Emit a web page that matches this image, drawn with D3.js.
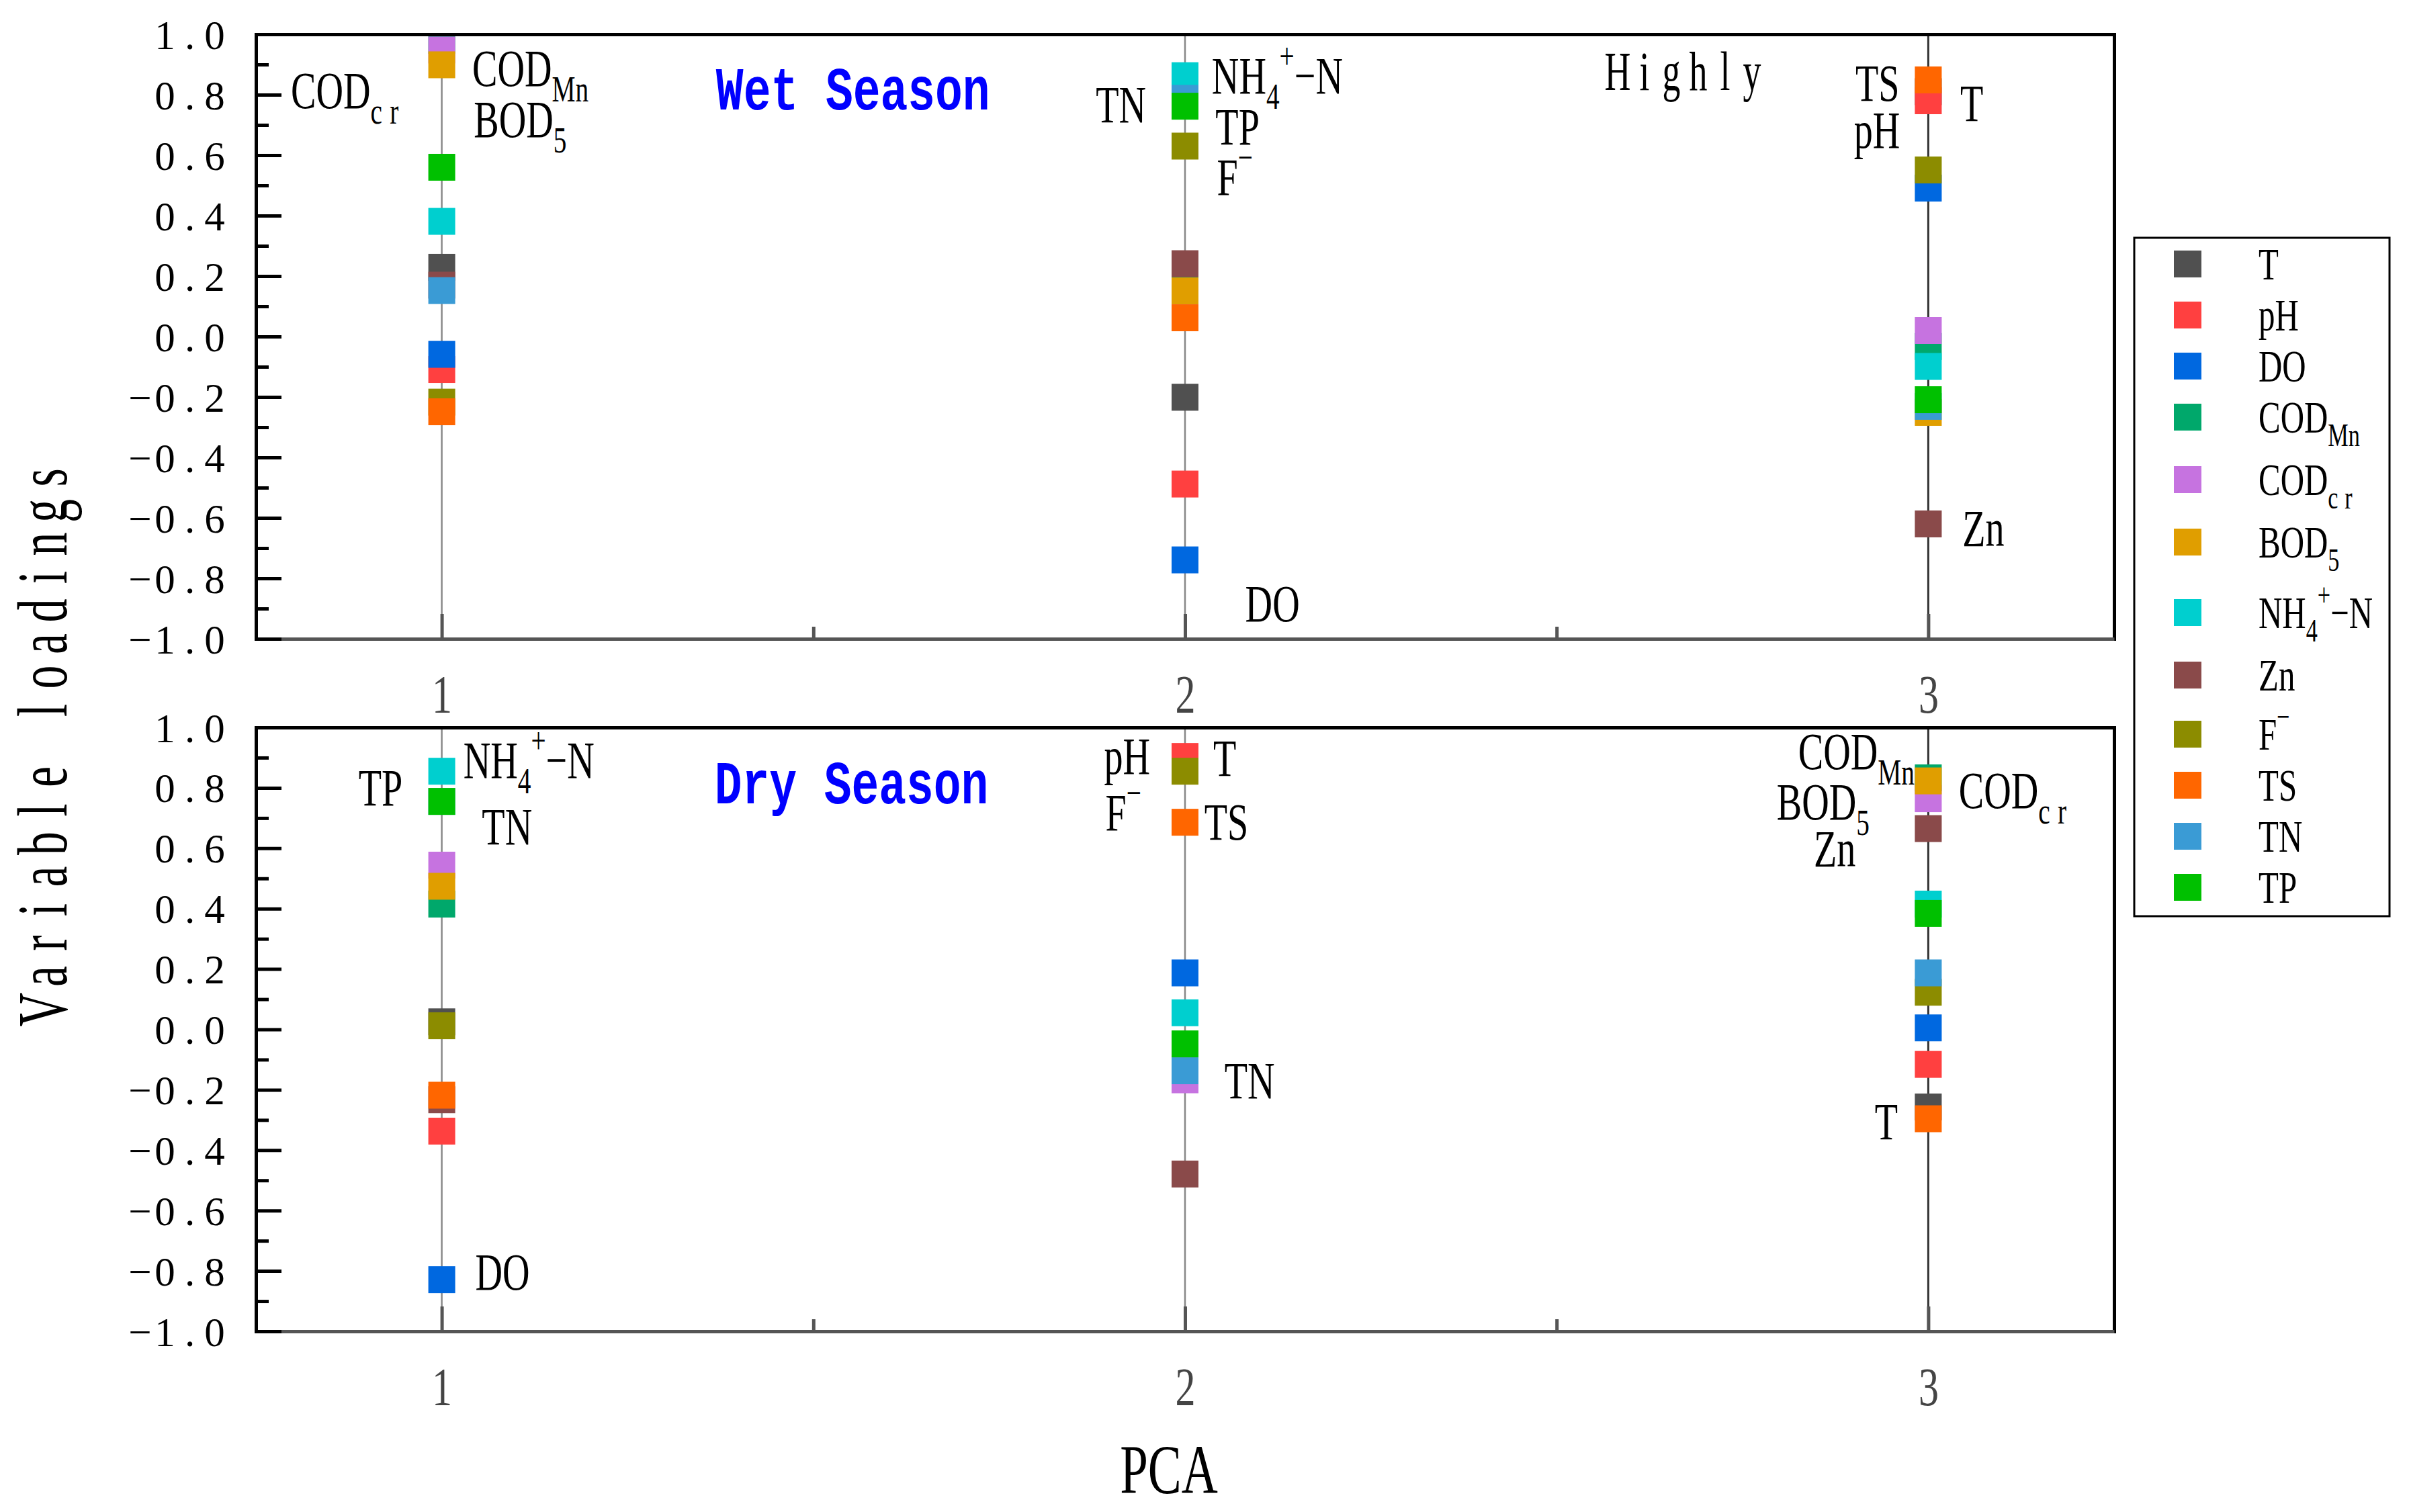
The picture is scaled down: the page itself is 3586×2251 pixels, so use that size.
<!DOCTYPE html>
<html><head><meta charset="utf-8">
<script src="https://cdn.jsdelivr.net/npm/d3@7"></script>
<style>html,body{margin:0;padding:0;background:#fff;} svg{display:block;}</style>
</head><body>
<svg id="chart" width="3586" height="2251"></svg>
<script>
// ---------------- data ----------------
const variables = ["T","pH","DO","COD_{Mn}","COD_{cr}","BOD_{5}","NH_{4}^{+}−N","Zn","F^{−}","TS","TN","TP"];
const seriesColors = ["#505050","#ff4040","#0068e0","#00a86b","#c673e0","#e09e00","#00cfcf","#8a4a4a","#8c8c00","#ff6600","#3a9bd5","#00c000"];
const components = [1, 2, 3];
const xTicks = [1, 2, 3];
const xMinorTicks = [1.5, 2.5];
const yTicks = [-1.0,-0.8,-0.6,-0.4,-0.2,0.0,0.2,0.4,0.6,0.8,1.0];
const yMinorTicks = [-0.9,-0.7,-0.5,-0.3,-0.1,0.1,0.3,0.5,0.7,0.9];

// loadings, in the order of `variables`
const wetPC1 = [0.229,-0.109,-0.059,0.980,0.948,0.899,0.381,0.170,-0.217,-0.249,0.152,0.560];
const wetPC2 = [-0.201,-0.488,-0.739,0.200,0.100,0.151,0.863,0.241,0.630,0.062,0.788,0.762];
const wetPC3 = [0.810,0.780,0.491,-0.033,0.020,-0.251,-0.099,-0.620,0.551,0.849,-0.231,-0.209];
const dryPC1 = [0.025,-0.337,-0.829,0.415,0.544,0.474,0.855,-0.233,0.012,-0.218,0.755,0.755];
const dryPC2 = [0.880,0.904,0.187,-0.120,-0.167,-0.090,0.055,-0.479,0.855,0.686,-0.137,-0.048];
const dryPC3 = [-0.257,-0.116,0.005,0.833,0.764,0.823,0.415,0.665,0.123,-0.296,0.187,0.384];

const seasonTitles = ["Wet Season", "Dry Season"];
const wetLabels = [
  {text:"COD_{cr}", x:0.797, y:0.756},
  {text:"COD_{Mn}", x:1.041, y:0.829},
  {text:"BOD_{5}", x:1.043, y:0.660},
  {text:"NH_{4}^{+}−N", x:2.036, y:0.804},
  {text:"TN", x:1.880, y:0.709},
  {text:"TP", x:2.041, y:0.636},
  {text:"F^{−}", x:2.043, y:0.469},
  {text:"DO", x:2.081, y:-0.942},
  {text:"TS", x:2.902, y:0.780},
  {text:"pH", x:2.900, y:0.624},
  {text:"T", x:3.043, y:0.713},
  {text:"Zn", x:3.046, y:-0.693}
];
const dryLabels = [
  {text:"NH_{4}^{+}−N", x:1.029, y:0.833},
  {text:"TP", x:0.888, y:0.742},
  {text:"TN", x:1.054, y:0.613},
  {text:"DO", x:1.045, y:-0.862},
  {text:"pH", x:1.891, y:0.847},
  {text:"T", x:2.038, y:0.840},
  {text:"F^{−}", x:1.893, y:0.660},
  {text:"TS", x:2.026, y:0.629},
  {text:"TN", x:2.053, y:-0.229},
  {text:"COD_{Mn}", x:2.825, y:0.862},
  {text:"BOD_{5}", x:2.796, y:0.696},
  {text:"Zn", x:2.846, y:0.540},
  {text:"COD_{cr}", x:3.041, y:0.733},
  {text:"T", x:2.928, y:-0.364}
];
const extraNote = {text:"Highly", x:2.564, y:0.816};

// ---------------- helpers ----------------
const SERIF = "'Liberation Serif','Times New Roman',serif";
const MONO = "'Liberation Mono','Courier New',monospace";

function parseRich(str) {
  return str.split(/(_\{[^}]*\}|\^\{[^}]*\})/).filter(s => s.length).map(s => {
    if (s.startsWith("_{")) return {t: s.slice(2, -1), type: "sub"};
    if (s.startsWith("^{")) return {t: s.slice(2, -1), type: "sup"};
    return {t: s, type: "n"};
  });
}
function richText(parent, str, x, y, size, sx, anchor) {
  const text = parent.append("text")
    .attr("transform", `translate(${x},${y}) scale(${sx},1)`)
    .attr("text-anchor", anchor || "start")
    .style("font-family", SERIF).style("font-size", size + "px").attr("fill", "#000");
  let cur = 0;
  parseRich(str).forEach(p => {
    const target = p.type === "sub" ? size * 0.295 : p.type === "sup" ? -size * 0.474 : 0;
    const ts = text.append("tspan").text(p.t).attr("dy", target - cur);
    if (p.type !== "n") ts.style("font-size", (size * 0.7) + "px");
    if (p.type === "sub" && /^[a-z]+$/.test(p.t)) ts.style("letter-spacing", (size * 0.2) + "px");
    cur = target;
  });
  return text;
}
// fixed-pitch layout of serif glyphs (mimics half-width CJK typesetting)
function monoInto(text, str, pitch, sx, anchor, x0) {
  const chars = Array.from(str);
  const W = chars.length * pitch;
  const off = anchor === "start" ? 0 : anchor === "middle" ? -W / 2 : -W;
  text.text(null).attr("text-anchor", "middle");
  chars.forEach((c, i) => {
    text.append("tspan").attr("x", ((x0 || 0) + off + (i + 0.5) * pitch) / sx).text(c);
  });
}

// ---------------- layout ----------------
const svg = d3.select("#chart");
svg.append("rect").attr("width", 3586).attr("height", 2251).attr("fill", "#fff");

const x = d3.scaleLinear().domain([0.75, 3.25]).range([381, 3147]);
const panels = [
  {range: [951, 51], loadings: [wetPC1, wetPC2, wetPC3], labels: wetLabels, title: seasonTitles[0], titlePos: {x:1.369, y:0.751}},
  {range: [1982, 1083], loadings: [dryPC1, dryPC2, dryPC3], labels: dryLabels, title: seasonTitles[1], titlePos: {x:1.367, y:0.749}}
];
const lineColors = ["#888888", "#888888", "#333333"];
const M = 40; // marker size

panels.forEach((p, pi) => {
  const y = d3.scaleLinear().domain([-1, 1]).range(p.range);
  const g = svg.append("g");
  const clipId = "clip" + pi;
  svg.append("defs").append("clipPath").attr("id", clipId).append("rect")
    .attr("x", x.range()[0]).attr("y", p.range[1])
    .attr("width", x.range()[1] - x.range()[0]).attr("height", p.range[0] - p.range[1]);

  const plot = g.append("g").attr("clip-path", `url(#${clipId})`);
  // vertical component lines
  plot.selectAll("line.comp").data(components).enter().append("line")
    .attr("x1", d => x(d)).attr("x2", d => x(d))
    .attr("y1", y(1)).attr("y2", y(-1))
    .attr("stroke", (d, i) => lineColors[i]).attr("stroke-width", (d, i) => i === 2 ? 3 : 2.5);

  // markers: each variable is a series drawn in order
  variables.forEach((v, vi) => {
    const pts = components.map((c, ci) => ({c, val: p.loadings[ci][vi]}));
    plot.append("g").selectAll("rect").data(pts).enter().append("rect")
      .attr("x", d => x(d.c) - M / 2).attr("y", d => y(d.val) - M / 2)
      .attr("width", M).attr("height", M)
      .attr("fill", seriesColors[vi]);
  });

  // axes / frame
  const top = g.append("g").attr("transform", `translate(0,${y(1)})`)
    .call(d3.axisTop(x).tickValues([]).tickSizeOuter(0));
  const right = g.append("g").attr("transform", `translate(${x(3.25)},0)`)
    .call(d3.axisRight(y).tickValues([]).tickSizeOuter(0));
  [top, right].forEach(a => a.select(".domain").attr("stroke", "#000").attr("stroke-width", 5).attr("stroke-linecap", "square"));

  const bottom = g.append("g").attr("transform", `translate(0,${y(-1)})`)
    .call(d3.axisBottom(x).tickValues(xTicks).tickSize(-37).tickSizeOuter(0).tickFormat(d3.format("d")));
  bottom.select(".domain").attr("stroke", "#555").attr("stroke-width", 5);
  bottom.selectAll(".tick line").attr("stroke", "#555").attr("stroke-width", 5);
  bottom.selectAll(".tick text")
    .attr("y", 110).attr("dy", null)
    .attr("transform", "scale(0.75,1)")
    .style("font-family", SERIF).style("font-size", "80px").attr("fill", "#444");
  const bottomMinor = g.append("g").attr("transform", `translate(0,${y(-1)})`)
    .call(d3.axisBottom(x).tickValues(xMinorTicks).tickSize(-18).tickSizeOuter(0).tickFormat(""));
  bottomMinor.select(".domain").remove();
  bottomMinor.selectAll(".tick line").attr("stroke", "#555").attr("stroke-width", 5);

  const fmt = d3.format(".1f");
  const left = g.append("g").attr("transform", `translate(${x(0.75)},0)`)
    .call(d3.axisLeft(y).tickValues(yTicks).tickSize(-38).tickSizeOuter(0).tickPadding(43).tickFormat(fmt));
  left.select(".domain").attr("stroke", "#000").attr("stroke-width", 5).attr("stroke-linecap", "square");
  left.selectAll(".tick line").attr("stroke", "#000").attr("stroke-width", 5);
  left.selectAll(".tick text").each(function(d) {
    const t = d3.select(this);
    t.attr("dy", null).attr("y", 21).attr("fill", "#000")
      .style("font-family", SERIF).style("font-size", "61px");
    monoInto(t, fmt(d), 37, 1, "end", -43);
  });
  const leftMinor = g.append("g").attr("transform", `translate(${x(0.75)},0)`)
    .call(d3.axisLeft(y).tickValues(yMinorTicks).tickSize(-19).tickSizeOuter(0).tickFormat(""));
  leftMinor.select(".domain").remove();
  leftMinor.selectAll(".tick line").attr("stroke", "#000").attr("stroke-width", 5);

  // season title
  g.append("text")
    .attr("transform", `translate(${x(p.titlePos.x)},${y(p.titlePos.y)}) scale(0.755,1)`)
    .style("font-family", MONO).style("font-size", "90px").style("font-weight", "bold")
    .attr("fill", "#0000ff").text(p.title);

  // variable labels
  p.labels.forEach(l => richText(g, l.text, x(l.x), y(l.y), 78, 0.72, "start"));

  if (pi === 0) {
    const t = g.append("text")
      .attr("transform", `translate(${x(extraNote.x)},${y(extraNote.y)}) scale(0.65,1)`)
      .style("font-family", SERIF).style("font-size", "83px").attr("fill", "#000");
    monoInto(t, extraNote.text, 40 / 0.65 * 0.65, 0.65, "start", 0);
  }
});

// y axis title
const yTitle = svg.append("text")
  .attr("transform", "translate(99,1107) rotate(-90) scale(0.66,1)")
  .style("font-family", SERIF).style("font-size", "106px").attr("fill", "#000");
monoInto(yTitle, "Variable loadings", 49.5, 0.66, "middle", 0);

// x axis title
svg.append("text")
  .attr("transform", "translate(1740,2223) scale(0.72,1)")
  .attr("text-anchor", "middle")
  .style("font-family", SERIF).style("font-size", "104px").attr("fill", "#000")
  .text("PCA");

// legend
const lg = svg.append("g").attr("transform", "translate(3177,354)");
const hasSub = s => s.includes("_{");
const hasSup = s => s.includes("^{");
const rowY = [];
variables.forEach((v, i) => {
  if (i === 0) rowY.push(39);
  else rowY.push(rowY[i - 1] + 76 + (hasSub(variables[i - 1]) ? 17 : 0) + (hasSup(v) ? 12 : 0));
});
lg.append("rect").attr("x", 0).attr("y", 0).attr("width", 380).attr("height", rowY[rowY.length - 1] + 43)
  .attr("fill", "#fff").attr("stroke", "#000").attr("stroke-width", 3);
variables.forEach((v, i) => {
  lg.append("rect").attr("x", 59).attr("y", rowY[i] - 20).attr("width", 41).attr("height", 40)
    .attr("fill", seriesColors[i]);
  richText(lg, v, 185, rowY[i] + 22.5, 68, 0.72, "start");
});
</script>
</body></html>
